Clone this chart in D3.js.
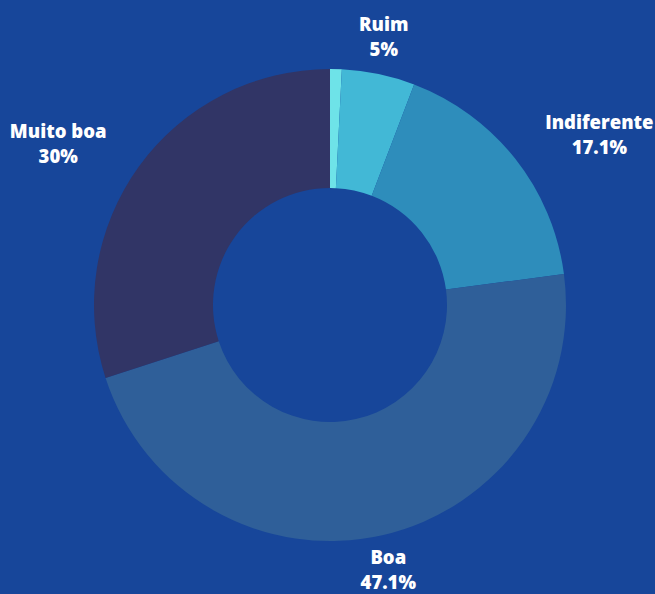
<!DOCTYPE html>
<html>
<head>
<meta charset="utf-8">
<script src="https://cdn.jsdelivr.net/npm/d3@7"></script>
<style>
  html, body { margin: 0; padding: 0; background: #17469a; }
  svg { display: block; }
</style>
</head>
<body>
<svg id="donut" width="655" height="594"></svg>
<script>
// chart data
const categories = ["Péssima", "Ruim", "Indiferente", "Boa", "Muito boa"];
const values = [0.8, 5, 17.1, 47.1, 30];
const labels = ["", "5%", "17.1%", "47.1%", "30%"];
const colors = ["#6ee3e8", "#42b8d6", "#2e8dbb", "#2f5f99", "#313566"];

const svg = d3.select("svg#donut");

const center = { x: 330, y: 305 };
const outerR = 236;
const innerR = 117;

const pie = d3.pie().sort(null).value(d => d.value);
const arcs = pie(categories.map((c, i) => ({ name: c, value: values[i], label: labels[i], color: colors[i] })));

const arc = d3.arc().innerRadius(innerR).outerRadius(outerR);

const g = svg.append("g").attr("transform", `translate(${center.x}, ${center.y})`);

g.selectAll("path")
  .data(arcs)
  .enter()
  .append("path")
  .attr("d", arc)
  .attr("fill", d => d.data.color);

// labels outside the ring
const labelR = outerR + 14;
const lineH = 25;
const boxH = 45;

const lab = g.selectAll("g.lab")
  .data(arcs.filter(d => d.data.label !== ""))
  .enter()
  .append("g")
  .attr("class", "lab");

lab.each(function (d) {
  const el = d3.select(this);
  const t = el.append("text")
    .attr("text-anchor", "middle")
    .style("font-family", "'Open Sans', 'Noto Sans', sans-serif")
    .style("font-weight", 800)
    .style("font-size", "18.5px")
    .attr("fill", "#ffffff");
  const t1 = t.append("tspan").attr("x", 0).attr("y", -7).text(d.data.name);
  const t2 = t.append("tspan").attr("x", 0).attr("y", -7 + lineH).text(d.data.label);
  const w = Math.max(t1.node().getComputedTextLength(), t2.node().getComputedTextLength());

  const a = (d.startAngle + d.endAngle) / 2;
  const vx = Math.sin(a), vy = -Math.cos(a);
  const cx = vx * labelR + vx * Math.abs(vx) * w * 1.1;
  const cy = vy * labelR + vy * boxH / 2;
  el.attr("transform", `translate(${cx}, ${cy})`);
});
</script>
</body>
</html>
